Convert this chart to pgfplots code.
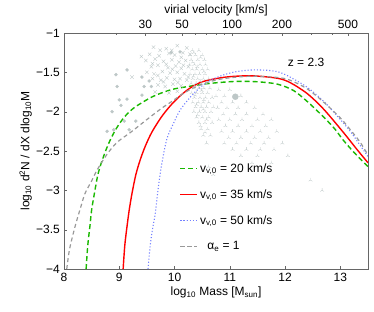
\documentclass[border=0pt]{standalone}
\usepackage{pgfplots}
\pgfplotsset{compat=1.18}
\usetikzlibrary{plotmarks}
\usepackage{fontspec}
\setmainfont{Liberation Sans}
\definecolor{cgreen}{rgb}{0.1,0.72,0.0}
\definecolor{cblue}{rgb}{0.45,0.5,1.0}
\definecolor{cgray}{rgb}{0.6,0.6,0.6}
\definecolor{cscat}{rgb}{0.74,0.78,0.78}
\definecolor{cframe}{rgb}{0.4,0.4,0.4}
\begin{document}
\fontsize{12}{14}\selectfont
\begin{tikzpicture}
\begin{axis}[
  at={(0,0)}, anchor=south west,
  scale only axis, width=304pt, height=236pt,
  xmin=8, xmax=13.5, ymin=-4, ymax=-1,
  xtick={8,9,10,11,12,13},
  ytick={-4,-3.5,-3,-2.5,-2,-1.5,-1},
  yticklabels={−4,−3.5,−3,−2.5,−2,−1.5,−1},
  /pgf/number format/assume math mode=true,
  tick align=inside, major tick length=3pt,
  axis line style={cframe}, tick style={cframe},
  every tick label/.style={font=\fontsize{12}{14}\selectfont},
  xtick pos=bottom, ytick pos=left,
  xlabel={log\textsubscript{10} Mass [M\textsubscript{sun}]},
  ylabel={log\textsubscript{10} d\textsuperscript{2}N / dX dlog\textsubscript{10}M},
  xlabel style={font=\fontsize{12}{14}\selectfont, yshift=3pt},
  ylabel style={font=\fontsize{12}{14}\selectfont, yshift=-4pt},
  legend style={draw=none, fill=none, at={(0.37,0.465)}, anchor=north west,
    font=\fontsize{12}{14}\selectfont, row sep=11.5pt},
  legend cell align=left,
  clip=true,
]
% scatter: crosses
\addplot[only marks, mark=x, mark size=2.4pt, cscat, line width=0.35pt, forget plot] coordinates {
(9.62,-1.18)(9.85,-1.2)(10.05,-1.16)(10.22,-1.19)
(9.55,-1.27)(9.72,-1.29)(9.9,-1.26)(10.0,-1.28)(10.15,-1.25)(10.28,-1.27)
(9.48,-1.35)(9.65,-1.33)(9.8,-1.36)(9.95,-1.34)(10.08,-1.37)(10.2,-1.35)
(9.58,-1.43)(9.7,-1.41)(9.88,-1.44)(10.02,-1.42)(10.12,-1.45)(10.25,-1.43)
(9.5,-1.5)(9.63,-1.52)(9.78,-1.49)(9.92,-1.51)(10.05,-1.5)(10.18,-1.52)
(9.6,-1.58)(9.75,-1.6)(9.86,-1.57)(10.0,-1.59)(10.1,-1.58)(10.22,-1.6)
(9.7,-1.66)(9.83,-1.68)(9.97,-1.65)(10.12,-1.67)
(9.65,-1.75)(9.9,-1.76)(10.05,-1.74)(9.23,-1.56)(9.4,-1.3)
(9.74,-1.22)(9.95,-1.22)(10.12,-1.31)(9.6,-1.39)(9.85,-1.4)(10.16,-1.41)
(9.7,-1.54)(9.96,-1.46)(10.25,-1.56)(9.8,-1.62)(10.06,-1.63)
};
% scatter: tri marks
\addplot[only marks, mark=Mercedes star, mark size=2.2pt, cscat, line width=0.35pt, forget plot] coordinates {
(10.32,-1.22)(10.44,-1.22)
(10.28,-1.28)(10.38,-1.28)(10.5,-1.28)
(10.3,-1.34)(10.42,-1.34)(10.54,-1.34)
(10.27,-1.40)(10.36,-1.40)(10.46,-1.40)(10.56,-1.40)
(10.32,-1.46)(10.4,-1.46)(10.5,-1.46)(10.6,-1.46)
(10.28,-1.52)(10.37,-1.52)(10.45,-1.52)(10.55,-1.52)
(10.33,-1.58)(10.42,-1.58)(10.52,-1.58)(10.62,-1.58)
(10.3,-1.64)(10.39,-1.64)(10.48,-1.64)(10.58,-1.64)
(10.35,-1.70)(10.44,-1.70)(10.53,-1.70)(10.64,-1.70)
(10.31,-1.76)(10.4,-1.76)(10.5,-1.76)(10.6,-1.76)
(10.36,-1.82)(10.46,-1.82)(10.56,-1.82)(10.68,-1.82)
(10.33,-1.88)(10.43,-1.88)(10.52,-1.88)(10.62,-1.88)
(10.38,-1.94)(10.48,-1.94)(10.58,-1.94)(10.7,-1.94)
(10.35,-2.0)(10.45,-2.0)(10.55,-2.0)(10.66,-2.0)
(10.4,-2.07)(10.5,-2.07)(10.62,-2.07)
(10.44,-2.14)(10.55,-2.14)(10.68,-2.14)
(10.48,-2.22)(10.6,-2.22)(10.52,-2.3)(10.65,-2.3)(10.58,-2.4)
(10.35,-1.25)(10.47,-1.31)(10.33,-1.37)(10.41,-1.43)(10.53,-1.49)(10.34,-1.55)
(10.47,-1.61)(10.36,-1.67)(10.49,-1.73)(10.37,-1.79)(10.53,-1.85)(10.4,-1.91)
(10.52,-1.97)(10.42,-2.04)(10.58,-2.1)(10.47,-2.18)(10.55,-2.26)
(10.8,-1.72)(11.0,-1.72)
(10.75,-1.8)(10.9,-1.8)(11.2,-1.8)
(10.85,-1.88)(11.05,-1.88)(11.3,-1.88)
(10.78,-1.95)(10.95,-1.95)(11.15,-1.95)(11.45,-1.95)
(10.88,-2.03)(11.1,-2.03)(11.3,-2.03)(11.6,-2.03)
(10.8,-2.1)(11.0,-2.1)(11.22,-2.1)(11.5,-2.1)(11.75,-2.1)
(10.92,-2.18)(11.15,-2.18)(11.4,-2.18)(11.65,-2.18)
(10.85,-2.25)(11.05,-2.25)(11.3,-2.25)(11.55,-2.25)(11.85,-2.25)
(10.98,-2.33)(11.2,-2.33)(11.45,-2.33)(11.7,-2.33)
(10.9,-2.4)(11.12,-2.4)(11.38,-2.4)(11.62,-2.4)(11.95,-2.4)
(11.05,-2.48)(11.3,-2.48)(11.55,-2.48)(11.8,-2.48)
(11.2,-2.56)(11.5,-2.56)(12.05,-2.56)(11.4,-2.65)(11.75,-2.65)
(12.46,-2.87)(12.67,-3.0)(10.7,-2.8)(10.62,-2.7)
};
% scatter: dots
\addplot[only marks, mark=*, mark size=1.5pt, cscat, forget plot] coordinates {
(8.94,-1.53)(9.14,-1.47)(8.96,-1.68)(9.41,-1.56)(9.45,-1.68)(9.0,-1.85)(9.14,-1.84)
(8.87,-2.0)(9.03,-1.92)(9.41,-1.79)(9.09,-2.12)(9.3,-2.12)(8.78,-2.25)(8.9,-2.23)
(9.18,-2.23)(9.58,-1.68)(9.54,-1.61)(10.1,-1.24)(9.94,-1.25)
};
\addplot[only marks, mark=*, mark size=3pt, cscat, forget plot] coordinates {(11.1,-1.81)};
% curves
\addplot[cgreen, dash pattern=on 5pt off 3pt, line width=1.4pt, smooth] coordinates {
(8.40,-4.0)(8.43,-3.7)(8.47,-3.45)(8.5,-3.25)(8.56,-3.0)(8.62,-2.78)(8.72,-2.56)(8.83,-2.37)
(8.95,-2.21)(9.09,-2.07)(9.25,-1.96)(9.4,-1.89)(9.6,-1.81)(9.81,-1.75)(10.0,-1.71)(10.25,-1.68)
(10.52,-1.65)(10.8,-1.63)(11.13,-1.615)(11.5,-1.62)(11.86,-1.65)(12.15,-1.73)(12.4,-1.87)
(12.7,-2.07)(12.9,-2.22)(13.05,-2.36)(13.25,-2.52)(13.5,-2.70)
};
\addlegendentry{v\textsubscript{v,0} = 20 km/s}
\addplot[red, solid, line width=1.4pt, smooth] coordinates {
(9.07,-4.0)(9.10,-3.7)(9.14,-3.46)(9.18,-3.25)(9.23,-3.04)(9.3,-2.8)(9.38,-2.61)(9.47,-2.44)
(9.59,-2.26)(9.76,-2.07)(9.93,-1.92)(10.1,-1.80)(10.28,-1.70)(10.5,-1.62)(10.83,-1.57)
(11.1,-1.55)(11.43,-1.545)(11.86,-1.575)(12.09,-1.63)(12.4,-1.77)(12.7,-1.97)(13.05,-2.26)
(13.3,-2.48)(13.5,-2.65)
};
\addlegendentry{v\textsubscript{v,0} = 35 km/s}
\addplot[cblue, dotted, line width=1.1pt, smooth] coordinates {
(9.52,-4.0)(9.56,-3.7)(9.6,-3.5)(9.65,-3.3)(9.7,-3.0)(9.76,-2.7)(9.86,-2.35)(9.98,-2.15)
(10.1,-1.98)(10.28,-1.82)(10.45,-1.7)(10.65,-1.6)(10.9,-1.53)(11.13,-1.49)(11.4,-1.47)
(11.7,-1.475)(11.9,-1.50)(12.09,-1.56)(12.4,-1.69)(12.7,-1.87)(13.0,-2.1)(13.18,-2.25)
(13.35,-2.42)(13.5,-2.57)
};
\addlegendentry{v\textsubscript{v,0} = 50 km/s}
\addplot[cgray, dash pattern=on 4pt off 3pt, line width=1.2pt, smooth] coordinates {
(8.05,-4.0)(8.1,-3.75)(8.2,-3.46)(8.3,-3.22)(8.38,-3.04)(8.5,-2.88)(8.6,-2.74)(8.78,-2.54)
(8.96,-2.39)(9.21,-2.26)(9.5,-2.1)(9.76,-1.96)(9.93,-1.88)(10.2,-1.75)(10.5,-1.65)(10.8,-1.59)
(11.13,-1.56)(11.43,-1.55)(11.86,-1.565)(12.09,-1.60)(12.4,-1.71)(12.7,-1.88)(13.0,-2.08)
(13.18,-2.23)(13.35,-2.38)(13.5,-2.55)
};
\addlegendentry{\hspace{0.6em}α\textsubscript{e} = 1}
\node[font=\fontsize{12}{14}\selectfont] at (axis cs:12.38,-1.37) {z = 2.3};
\end{axis}
\begin{axis}[
  at={(0,0)}, anchor=south west,
  scale only axis, width=304pt, height=236pt,
  xmin=8, xmax=13.5, ymin=-4, ymax=-1,
  axis x line*=top, axis y line=none,
  tick align=inside, major tick length=3pt, minor tick length=2pt,
  axis line style={cframe}, tick style={cframe},
  xtick={9.471,10.137,11.04,11.943,13.137},
  xticklabels={30,50,100,200,500},
  minor xtick={8.943,9.846,10.375,10.575,10.749,10.903,12.471,12.846},
  ticklabel style={font=\fontsize{12}{14}\selectfont},
  xlabel={virial velocity [km/s]},
  xlabel style={font=\fontsize{12}{14}\selectfont, yshift=-4pt},
]
\addplot[draw=none] coordinates {(9,-2)};
\end{axis}
\pgfresetboundingbox
\path (-64pt,-42pt) rectangle (310pt,269pt);
\end{tikzpicture}
\end{document}
